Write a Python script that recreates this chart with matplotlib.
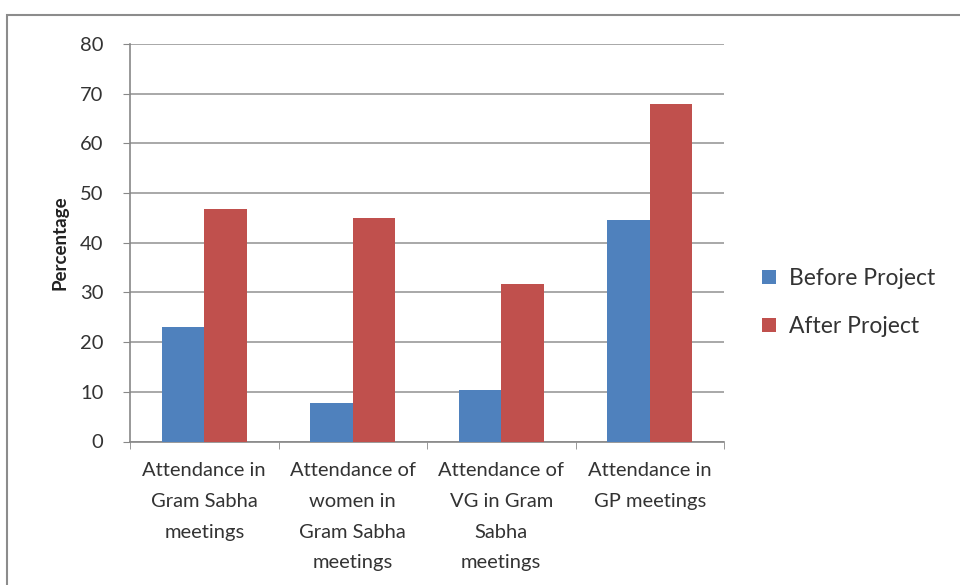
import numpy as np
import matplotlib.pyplot as plt
from matplotlib.patches import Rectangle

categories = ["Attendance in\nGram Sabha\nmeetings",
              "Attendance of\nwomen in\nGram Sabha\nmeetings",
              "Attendance of\nVG in Gram\nSabha\nmeetings",
              "Attendance in\nGP meetings"]
before = [23.0, 7.8, 10.4, 44.5]
after = [46.8, 44.9, 31.6, 68.0]
series_names = ["Before Project", "After Project"]

plt.rcParams['font.family'] = ['Lato', 'DejaVu Sans']
txt = "#333333"

fig = plt.figure(figsize=(9.6, 5.85), dpi=100)
# outer chart border
fig.patches.append(Rectangle((7 / 960, -0.01), 1.0, 1 - 15 / 585 + 0.01,
                             transform=fig.transFigure, fill=False,
                             edgecolor="#8c8c8c", linewidth=1.5))

ax = fig.add_axes([130 / 960, 1 - 441.5 / 585, 594 / 960, (441.5 - 44) / 585])
x = np.arange(len(categories))
w = 0.285
ax.bar(x - w / 2, before, w, color="#4F81BD", label=series_names[0], zorder=3)
ax.bar(x + w / 2, after, w, color="#C0504D", label=series_names[1], zorder=3)

ax.set_xlim(-0.5, len(categories) - 0.5)
ax.set_ylim(0, 80)
ax.set_yticks(range(0, 81, 10))
ax.yaxis.grid(True, color="#9a9a9a", linewidth=1.2, zorder=0)
ax.set_axisbelow(True)

ax.set_xticks(x)
ax.set_xticklabels(categories, fontsize=14.5, color=txt, linespacing=1.98, va="top")
ax.tick_params(axis="x", length=0, pad=15)
ax.set_xticks(np.arange(-0.5, len(categories)), minor=True)
ax.tick_params(axis="x", which="minor", length=5, color="#888888")
ax.tick_params(axis="y", length=5, color="#888888", labelsize=14.5, labelcolor=txt, pad=14)

for s in ["top", "right"]:
    ax.spines[s].set_visible(False)
for s in ["left", "bottom"]:
    ax.spines[s].set_color("#888888")
    ax.spines[s].set_linewidth(1.2)

ax.set_ylabel("Percentage", fontsize=13.5, fontweight="bold", color="#222222", labelpad=8)

ax.legend(loc="center left", bbox_to_anchor=(751 / 960, 1 - 302.5 / 585),
          bbox_transform=fig.transFigure, frameon=False, borderpad=0,
          fontsize=16.5, labelcolor=txt, handlelength=0.57, handleheight=0.57,
          handletextpad=0.6, labelspacing=1.15)

fig.savefig("out.png", dpi=100)
